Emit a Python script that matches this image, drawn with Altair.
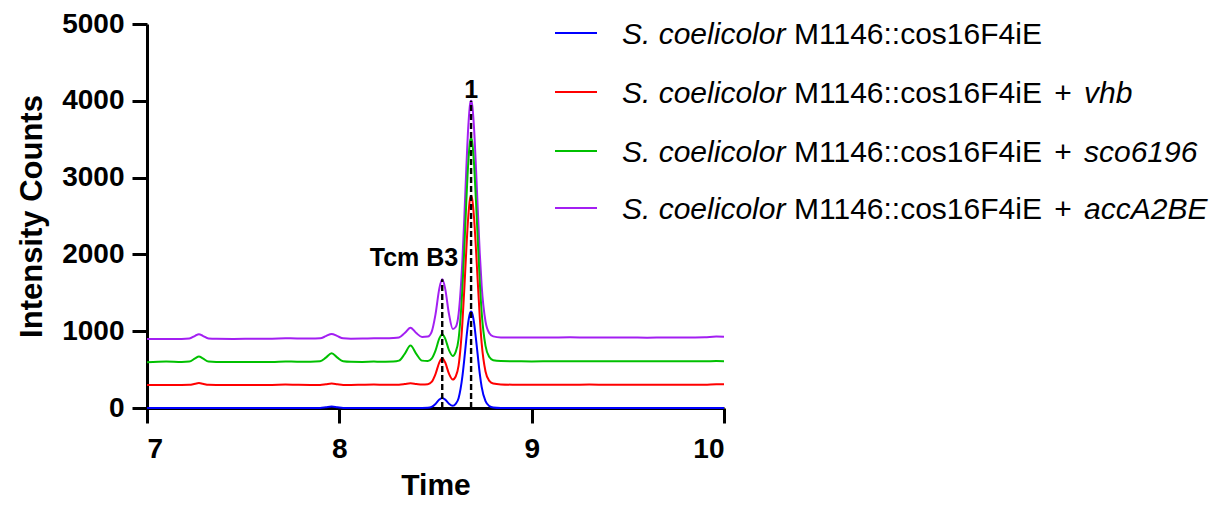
import altair as alt
import pandas as pd

# ---- data ----
time = [7.00, 7.10, 7.18, 7.22, 7.25, 7.27, 7.29, 7.32, 7.36, 7.45,
        7.55, 7.65, 7.72, 7.78, 7.85, 7.90, 7.93, 7.96, 7.99, 8.02,
        8.06, 8.12, 8.18, 8.24, 8.28, 8.31, 8.34, 8.37, 8.40, 8.43,
        8.46, 8.48, 8.50, 8.52, 8.535, 8.55, 8.57, 8.59, 8.605, 8.62,
        8.64, 8.65, 8.66, 8.67, 8.68, 8.685, 8.69, 8.70, 8.71, 8.72,
        8.73, 8.74, 8.76, 8.78, 8.80, 8.84, 8.90, 9.00, 9.10, 9.20,
        9.30, 9.40, 9.50, 9.60, 9.70, 9.80, 9.90, 9.96, 10.00]

blue = [0, 0, 0, 0, 0, 0, 0, 0, 0, 0,
        0, 0, 0, 0, 0, 1, 9, 18, 9, 1,
        0, 0, 0, 0, 0, 0, 0, 0, 0, 0,
        2, 14, 53, 110, 130, 110, 56, 29, 54, 127,
        414, 640, 891, 1111, 1239, 1255, 1239, 1117, 910, 678,
        452, 276, 88, 25, 8, 1, 0, 0, 0, 0,
        0, 0, 0, 0, 0, 0, 0, 0, 0]

red = [300, 301, 300, 302, 316, 325, 316, 302, 300, 299,
       300, 301, 305, 302, 300, 301, 309, 318, 309, 301,
       300, 303, 305, 302, 302, 304, 312, 322, 313, 305,
       310, 340, 442, 595, 648, 595, 447, 370, 410, 551,
       1115, 1558, 2050, 2480, 2731, 2763, 2731, 2492, 2087, 1631,
       1189, 844, 475, 352, 318, 307, 304, 303, 304, 302,
       305, 302, 303, 303, 303, 304, 303, 308, 308]

green = [597, 606, 600, 605, 646, 670, 646, 605, 600, 600,
         600, 600, 606, 603, 603, 608, 656, 712, 656, 608,
         601, 600, 604, 603, 605, 617, 705, 813, 705, 617,
         611, 643, 748, 906, 960, 906, 754, 678, 731, 898,
         1565, 2089, 2671, 3180, 3477, 3515, 3477, 3195, 2715, 2176,
         1653, 1245, 809, 663, 622, 611, 608, 607, 609, 610,
         608, 608, 608, 608, 608, 609, 608, 611, 610]

purple = [899, 900, 900, 905, 940, 960, 940, 905, 901, 900,
          902, 903, 907, 906, 904, 907, 935, 965, 935, 907,
          903, 904, 908, 907, 910, 918, 976, 1045, 976, 925,
          930, 992, 1219, 1558, 1675, 1558, 1225, 1029, 1055, 1223,
          1930, 2486, 3104, 3645, 3960, 4000, 3960, 3660, 3150, 2579,
          2022, 1590, 1126, 974, 933, 919, 918, 917, 918, 920,
          917, 917, 918, 916, 919, 918, 922, 930, 927]

series_colors = ["#0000ff", "#ff0000", "#00c000", "#a31ff2"]
legend_genes = ["", "vhb", "sco6196", "accA2BE"]

peak_time = [8.535, 8.685]
peak_top = [1675, 4000]
label_text = ["Tcm B3", "1"]
label_time = [8.388, 8.685]
label_height = [1844, 4039]

x_ticks = [7, 8, 9, 10]
y_ticks = [0, 1000, 2000, 3000, 4000, 5000]

FONT = "Liberation Sans"

# ---- encodings ----
xenc = alt.X("time:Q", title="Time",
             scale=alt.Scale(domain=[7, 10], nice=False, zero=False),
             axis=alt.Axis(values=x_ticks, format="d", labelPadding=12,
                           titlePadding=7))
yenc = alt.Y("intensity:Q", title="Intensity Counts",
             scale=alt.Scale(domain=[0, 5000], nice=False),
             axis=alt.Axis(values=y_ticks, format="d", labelPadding=8,
                           titlePadding=13, titleFontSize=31))

layers = []
traces = [blue, red, green, purple]
# draw purple first, blue last
for idx in [3, 2, 1, 0]:
    df = pd.DataFrame({"time": time, "intensity": traces[idx]})
    layers.append(
        alt.Chart(df).mark_line(color=series_colors[idx], strokeWidth=2,
                                interpolate="monotone")
        .encode(x=xenc, y=yenc)
    )

peaks_df = pd.DataFrame({"time": peak_time,
                         "intensity": [0] * len(peak_time),
                         "top": peak_top})
layers.append(
    alt.Chart(peaks_df).mark_rule(color="black", strokeWidth=2.4,
                                  strokeDash=[6, 3])
    .encode(x=xenc, y=yenc, y2="top:Q")
)

labels_df = pd.DataFrame({"time": label_time, "intensity": label_height,
                          "label": label_text})
layers.append(
    alt.Chart(labels_df).mark_text(font=FONT, fontSize=25, fontWeight="bold",
                                   color="black", align="center",
                                   baseline="alphabetic")
    .encode(x=xenc, y=yenc, text="label:N")
)

# ---- manual legend (mixed italic / upright text) ----
one = pd.DataFrame({"k": [0]})
row_y = [9, 68, 127, 184]
LEG = 30
for i in range(4):
    ly = row_y[i]
    layers.append(
        alt.Chart(one).mark_rule(color=series_colors[i], strokeWidth=2)
        .encode(x=alt.value(408), x2=alt.value(450), y=alt.value(ly))
    )
    layers.append(
        alt.Chart(one).mark_text(text="S. coelicolor", font=FONT, fontSize=LEG,
                                 fontStyle="italic", align="left",
                                 baseline="alphabetic", color="black")
        .encode(x=alt.value(475), y=alt.value(ly + 11))
    )
    layers.append(
        alt.Chart(one).mark_text(text="M1146::cos16F4iE", font=FONT,
                                 fontSize=LEG, align="left",
                                 baseline="alphabetic", color="black")
        .encode(x=alt.value(647), y=alt.value(ly + 11))
    )
    if legend_genes[i]:
        layers.append(
            alt.Chart(one).mark_text(text="+", font=FONT, fontSize=LEG,
                                     align="center", baseline="alphabetic",
                                     color="black")
            .encode(x=alt.value(916), y=alt.value(ly + 11))
        )
        layers.append(
            alt.Chart(one).mark_text(text=legend_genes[i], font=FONT,
                                     fontSize=LEG, fontStyle="italic",
                                     align="left", baseline="alphabetic",
                                     color="black")
            .encode(x=alt.value(937), y=alt.value(ly + 11))
        )

chart = (
    alt.layer(*layers)
    .properties(width=577, height=384,
                autosize=alt.AutoSizeParams(type="none"),
                padding={"left": 139, "top": 16, "right": 488, "bottom": 92})
    .configure_view(stroke=None)
    .configure_axis(grid=False, domainColor="black", domainWidth=3,
                    tickColor="black", tickWidth=3, tickSize=15,
                    labelFont=FONT, labelFontSize=28, labelFontWeight="bold",
                    labelColor="black",
                    titleFont=FONT, titleFontSize=30, titleFontWeight="bold",
                    titleColor="black")
)

chart.save("out.html", embed_options={"renderer": "svg", "actions": False})
